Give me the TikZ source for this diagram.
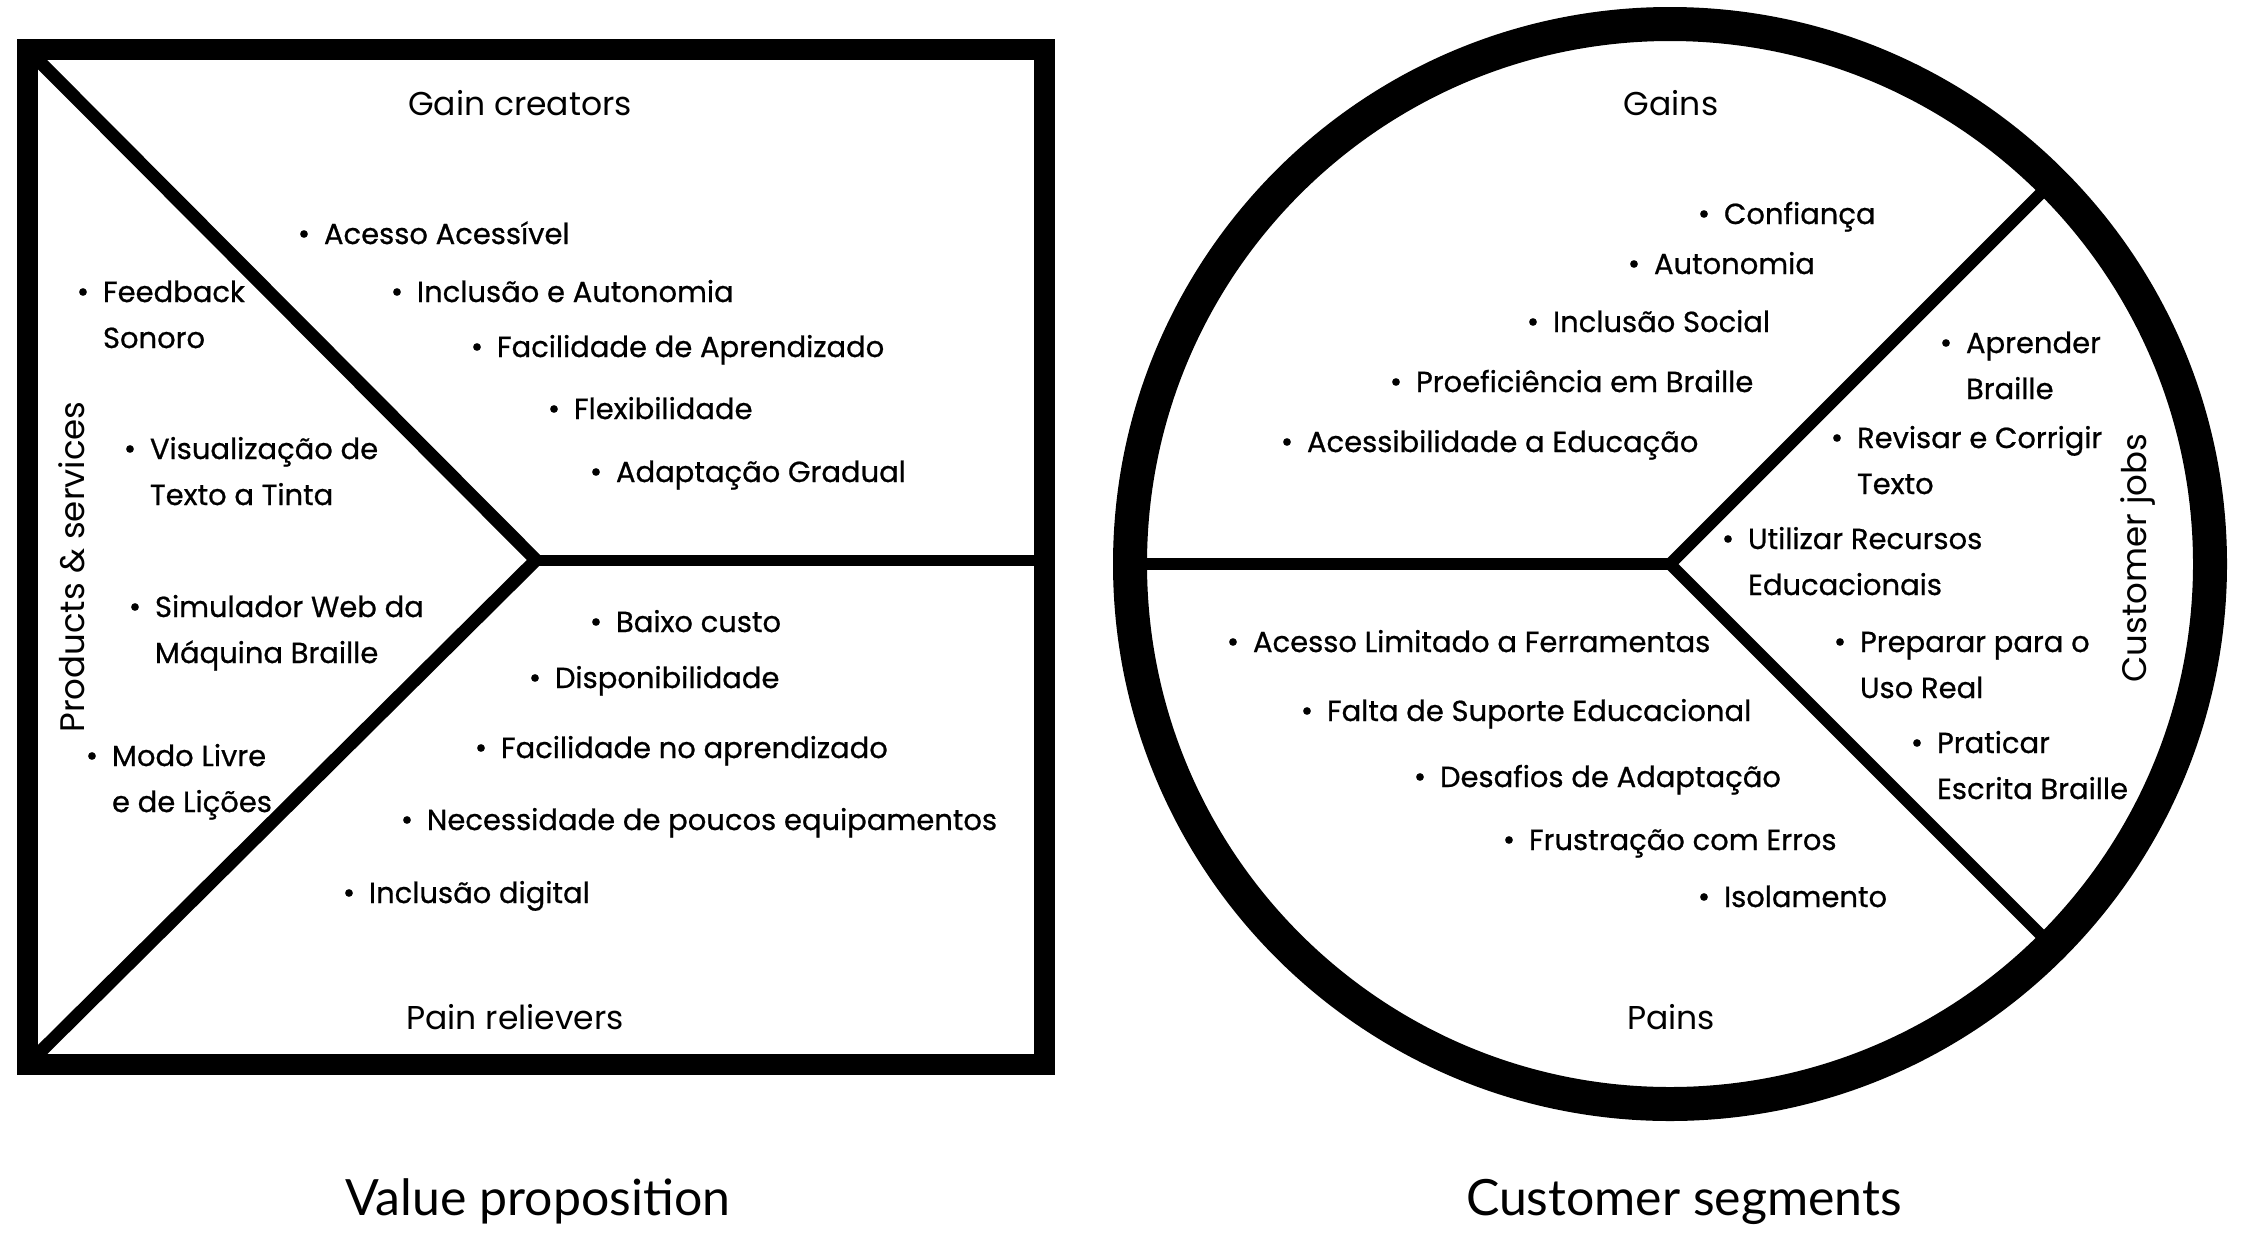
\documentclass[tikz,border=0pt]{standalone}
\usepackage{fontspec}
\setmainfont{Poppins}
\newfontfamily\itemfont{Poppins}[FakeBold=0.7]
\newfontfamily\titlefont{Lato}
\newcommand{\bul}{\makebox[10pt][c]{\fontsize{30}{30}\selectfont\textbullet}\hspace{15pt}}
\newcommand{\itm}[1]{\bul\begin{tabular}[t]{@{}l@{}}#1\end{tabular}}

\begin{document}
\begin{tikzpicture}[x=1pt,y=-1pt,inner sep=0pt,outer sep=0pt,
itemtext/.style={anchor=base west,font=\itemfont\fontsize{29}{46}\selectfont},
header/.style={anchor=base,font=\fontsize{33}{38}\selectfont},
sidehead/.style={rotate=90,font=\fontsize{34}{38}\selectfont},
caption/.style={anchor=base,font=\titlefont\fontsize{50}{56}\selectfont},
vpframe/.style={line width=21pt},
ring/.style={line width=34pt},
divider/.style={line width=12pt}]

\useasboundingbox (0,0) rectangle (2245,1240);

% value proposition square
\coordinate (tl) at (27.5,49.5);
\coordinate (bl) at (27.5,1064.5);
\coordinate (vp) at (536,560);
\coordinate (vr) at (1044.5,560);
\draw[divider,line width=13pt,line join=miter] (tl) -- (vp) -- (bl);
\draw[divider,line width=11pt] (vp) -- (vr);
\draw[vpframe] (tl) rectangle (1044.5,1064.5);

% customer circle
\coordinate (cc) at (1670,564);
\draw[divider] (cc) -- +(180:525);
\draw[divider,line join=miter] (cc) ++(45:525) -- (cc) -- ++(-45:525);
\draw[ring] (cc) circle (540);

% headers
\draw (520,115) node[header] (gaincr) {Gain creators};
\draw (515,1029) node[header] (painrel) {Pain relievers};
\draw (72,567) node[sidehead] (prodserv) {Products \& services};
\draw (1671,115) node[header] (gains) {Gains};
\draw (1671,1029) node[header] (pains) {Pains};
\draw (2138,558) node[sidehead] (custjobs) {Customer jobs};

% products & services
\draw (78,302) node[itemtext] (ps1) {\itm{Feedback\\Sonoro}};
\draw (125,459) node[itemtext] (ps2) {\itm{Visualização de\\Texto a Tinta}};
\draw (130,617) node[itemtext] (ps3) {\itm{Simulador Web da\\Máquina Braille}};
\draw (87,766) node[itemtext] (ps4) {\itm{Modo Livre\\e de Lições}};

% gain creators
\draw (299,244) node[itemtext] (gc1) {\itm{Acesso Acessível}};
\draw (392,302) node[itemtext] (gc2) {\itm{Inclusão e Autonomia}};
\draw (472,357) node[itemtext] (gc3) {\itm{Facilidade de Aprendizado}};
\draw (549,419) node[itemtext] (gc4) {\itm{Flexibilidade}};
\draw (591,482) node[itemtext] (gc5) {\itm{Adaptação Gradual}};

% pain relievers
\draw (591,632) node[itemtext] (pr1) {\itm{Baixo custo}};
\draw (530,688) node[itemtext] (pr2) {\itm{Disponibilidade}};
\draw (476,758) node[itemtext] (pr3) {\itm{Facilidade no aprendizado}};
\draw (402,830) node[itemtext] (pr4) {\itm{Necessidade de poucos equipamentos}};
\draw (344,903) node[itemtext] (pr5) {\itm{Inclusão digital}};

% gains
\draw (1699,224) node[itemtext] (gn1) {\itm{Confiança}};
\draw (1629,274) node[itemtext] (gn2) {\itm{Autonomia}};
\draw (1528,332) node[itemtext] (gn3) {\itm{Inclusão Social}};
\draw (1391,392) node[itemtext] (gn4) {\itm{Proeficiência em Braille}};
\draw (1282,452) node[itemtext] (gn5) {\itm{Acessibilidade a Educação}};

% pains
\draw (1228,652) node[itemtext] (pn1) {\itm{Acesso Limitado a Ferramentas}};
\draw (1302,721) node[itemtext] (pn2) {\itm{Falta de Suporte Educacional}};
\draw (1415,787) node[itemtext] (pn3) {\itm{Desafios de Adaptação}};
\draw (1504,850) node[itemtext] (pn4) {\itm{Frustração com Erros}};
\draw (1699,907) node[itemtext] (pn5) {\itm{Isolamento}};

% customer jobs
\draw (1941,353) node[itemtext] (cj1) {\itm{Aprender\\Braille}};
\draw (1832,448) node[itemtext] (cj2) {\itm{Revisar e Corrigir\\Texto}};
\draw (1723,549) node[itemtext] (cj3) {\itm{Utilizar Recursos\\Educacionais}};
\draw (1835,652) node[itemtext] (cj4) {\itm{Preparar para o\\Uso Real}};
\draw (1912,753) node[itemtext] (cj5) {\itm{Praticar\\Escrita Braille}};

% captions
\draw (538,1215) node[caption] (valprop) {Value proposition};
\draw (1684,1215) node[caption] (custseg) {Customer segments};
\end{tikzpicture}
\end{document}
